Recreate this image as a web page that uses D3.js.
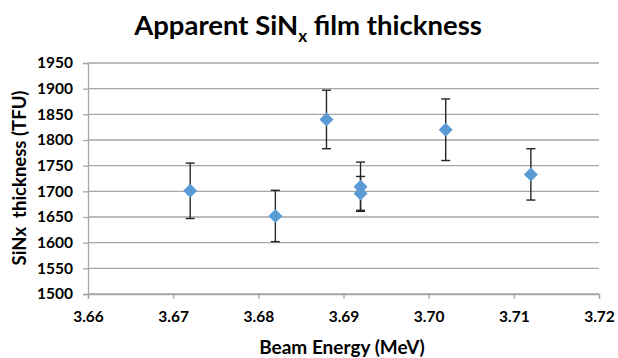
<!DOCTYPE html>
<html>
<head>
<meta charset="utf-8">
<script src="https://cdn.jsdelivr.net/npm/d3@7"></script>
<style>
  html, body { margin: 0; padding: 0; background: #fff; }
  svg { display: block; font-family: Lato, "Open Sans", sans-serif; }
</style>
</head>
<body>
<svg id="chart" width="618" height="358"></svg>
<script>
// Beam energy (MeV) and measured apparent SiNx thickness (TFU) with error
const energies   = [3.672, 3.682, 3.688, 3.692, 3.692, 3.702, 3.712];
const thickness  = [1701, 1652, 1840, 1709, 1696, 1820, 1733];
const errors     = [54, 50, 57, 48, 33, 60, 50];
const xTicks     = [3.66, 3.67, 3.68, 3.69, 3.70, 3.71, 3.72];
const yTicks     = [1500, 1550, 1600, 1650, 1700, 1750, 1800, 1850, 1900, 1950];

const svg = d3.select("#chart");
const plotLeft = 88, plotRight = 599, plotTop = 63, plotBottom = 294;

const x = d3.scaleLinear().domain([3.66, 3.72]).range([plotLeft, plotRight]);
const y = d3.scaleLinear().domain([1500, 1950]).range([plotBottom, plotTop]);

// horizontal gridlines
svg.append("g")
  .selectAll("line")
  .data(yTicks)
  .join("line")
  .attr("x1", plotLeft).attr("x2", plotRight)
  .attr("y1", d => y(d)).attr("y2", d => y(d))
  .attr("stroke", "#a6a6a6").attr("stroke-width", 1.3);

// y axis
const yAxis = svg.append("g")
  .attr("transform", `translate(${plotLeft},0)`)
  .call(d3.axisLeft(y).tickValues(yTicks).tickSize(5).tickPadding(10).tickFormat(d3.format("d")));
yAxis.select(".domain").attr("stroke", "#a6a6a6").attr("stroke-width", 1.3);
yAxis.selectAll(".tick line").attr("stroke", "#a6a6a6").attr("stroke-width", 1.3);
yAxis.selectAll(".tick text")
  .attr("font-family", "Lato, 'Open Sans', sans-serif")
  .attr("font-size", 15.5).attr("font-weight", "bold").attr("fill", "#000");

// x axis
const xAxis = svg.append("g")
  .attr("transform", `translate(0,${plotBottom})`)
  .call(d3.axisBottom(x).tickValues(xTicks).tickSize(5).tickPadding(12).tickFormat(d3.format(".2f")));
xAxis.select(".domain").attr("stroke", "#a6a6a6").attr("stroke-width", 1.3);
xAxis.selectAll(".tick line").attr("stroke", "#a6a6a6").attr("stroke-width", 1.3);
xAxis.selectAll(".tick text")
  .attr("font-family", "Lato, 'Open Sans', sans-serif")
  .attr("font-size", 15.5).attr("font-weight", "bold").attr("fill", "#000");

// error bars
const pts = energies.map((e, i) => ({ e, t: thickness[i], err: errors[i] }));
const eb = svg.append("g").attr("stroke", "#262626").attr("stroke-width", 1.4);
pts.forEach(p => {
  const cx = x(p.e);
  eb.append("line").attr("x1", cx).attr("x2", cx)
    .attr("y1", y(p.t + p.err)).attr("y2", y(p.t - p.err));
  [p.t + p.err, p.t - p.err].forEach(v => {
    eb.append("line").attr("x1", cx - 4.5).attr("x2", cx + 4.5)
      .attr("y1", y(v)).attr("y2", y(v));
  });
});

// diamond markers
const r = 7;
svg.append("g")
  .selectAll("path")
  .data(pts)
  .join("path")
  .attr("d", p => {
    const cx = x(p.e), cy = y(p.t);
    return `M${cx},${cy - r}L${cx + r},${cy}L${cx},${cy + r}L${cx - r},${cy}Z`;
  })
  .attr("fill", "#5b9bd5");

// title with subscript
const title = svg.append("text")
  .attr("x", 308).attr("y", 35)
  .attr("text-anchor", "middle")
  .attr("font-size", 27.5).attr("font-weight", "bold").attr("fill", "#000");
title.append("tspan").text("Apparent SiN");
title.append("tspan").attr("font-size", 17).attr("dy", 7).text("x");
title.append("tspan").attr("dy", -7).text(" film thickness");

// axis titles
svg.append("text")
  .attr("x", 342).attr("y", 354)
  .attr("text-anchor", "middle")
  .attr("font-size", 19).attr("font-weight", "bold").attr("fill", "#000")
  .text("Beam Energy (MeV)");

svg.append("text")
  .attr("transform", "translate(26,178) rotate(-90)")
  .attr("text-anchor", "middle")
  .attr("font-size", 18.5).attr("font-weight", "bold").attr("fill", "#000")
  .attr("xml:space", "preserve")
  .text("SiNx  thickness (TFU)");
</script>
</body>
</html>
